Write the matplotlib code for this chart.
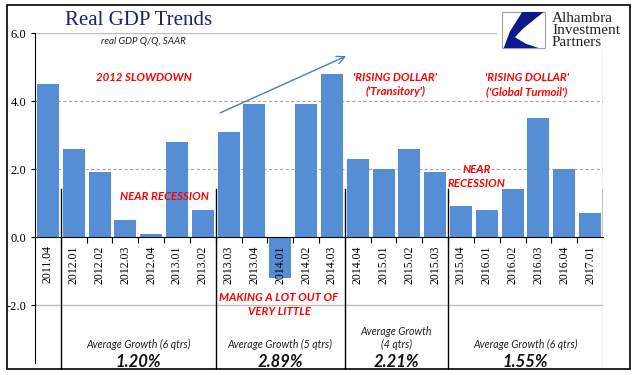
import matplotlib.pyplot as plt
from matplotlib.patches import Rectangle, Polygon

quarters = ["2011.04", "2012.01", "2012.02", "2012.03", "2012.04", "2013.01",
            "2013.02", "2013.03", "2013.04", "2014.01", "2014.02", "2014.03",
            "2014.04", "2015.01", "2015.02", "2015.03", "2015.04", "2016.01",
            "2016.02", "2016.03", "2016.04", "2017.01"]
gdp = [4.5, 2.6, 1.9, 0.5, 0.1, 2.8, 0.8, 3.1, 3.9, -1.2, 3.9, 4.8,
       2.3, 2.0, 2.6, 1.9, 0.9, 0.8, 1.4, 3.5, 2.0, 0.7]

# period boundaries (between quarters) and the averages written below
splits = [0.5, 6.5, 11.5, 15.5]
period_centers = [3.5, 9.0, 13.5, 18.5]
period_labels = ["Average Growth (6 qtrs)", "Average Growth (5 qtrs)",
                 "Average Growth\n(4 qtrs)", "Average Growth (6 qtrs)"]
period_avgs = ["1.20%", "2.89%", "2.21%", "1.55%"]

BLUE = "#558ED5"
RED = "#FF0000"
SANS = "Lato"
SERIF = "Liberation Serif"

W, H = 641, 375
fig = plt.figure(figsize=(W / 100, H / 100), dpi=100)
ymin, ymax = -3.9, 6.0
px_per_unit = 34.0
ax = fig.add_axes([35 / W, (H - 237 - (-ymin) * px_per_unit) / H,
                   (603 - 35) / W, (ymax - ymin) * px_per_unit / H])

x = list(range(len(quarters)))
ax.bar(x, gdp, width=0.85, color=BLUE, zorder=1)

# gridlines behind bars
ax.axhline(6.0, color="#BFBFBF", lw=1, zorder=0)
ax.axhline(-2.0, color="#BFBFBF", lw=1, zorder=0)
for g in [2.0, 4.0]:
    ax.axhline(g, color="#A6A6A6", lw=0.8, ls=(0, (3, 2)), zorder=0)

ax.set_xlim(-0.5, 21.5)
ax.set_ylim(ymin, ymax)

for s in ["top", "right"]:
    ax.spines[s].set_visible(False)
ax.spines["bottom"].set_position(("data", 0))
ax.spines["bottom"].set_zorder(3)
ax.spines["left"].set_bounds(-3.7, 6.0)
ax.axvline(21.5, color="#BFBFBF", lw=1, zorder=0)
ax.plot([21.5, 21.5], [0, 1.4], color="black", lw=1, zorder=3)

ax.set_yticks([-2, 0, 2, 4, 6])
ax.set_yticklabels(["-2.0", "0.0", "2.0", "4.0", "6.0"], fontfamily=SERIF, fontsize=9)
ax.tick_params(axis="y", length=3, width=0.8, pad=3)

ax.set_xticks([i + 0.5 for i in x[:-1]])
ax.set_xticklabels([])
ax.set_xticks(x, minor=True)
ax.set_xticklabels(quarters, minor=True, rotation=90, fontfamily=SERIF, fontsize=8.5)
ax.tick_params(axis="x", which="major", length=4, width=0.8, direction="out")
ax.tick_params(axis="x", which="minor", length=0, pad=6)
ax.xaxis.set_zorder(4)

for s in splits:
    ax.plot([s, s], [ymin, 1.4], color="black", lw=1, zorder=3)

# annotations
ax.text(3.7, 5.75, "real GDP Q/Q, SAAR", fontfamily=SANS, style="italic",
        fontsize=7, color="#222222", ha="center", va="center")
red = dict(fontfamily=SANS, style="italic", weight="bold", fontsize=8.2,
           color=RED, ha="center", va="center", linespacing=1.35)
ax.text(3.7, 4.68, "2012 SLOWDOWN", **red)
ax.text(4.5, 1.2, "NEAR RECESSION", **red)
ax.text(8.95, -1.98, "MAKING A LOT OUT OF\nVERY LITTLE", **red)
ax.text(13.45, 4.48, "'RISING DOLLAR'\n('Transitory')", **red)
ax.text(18.55, 4.48, "'RISING DOLLAR'\n('Global Turmoil')", **red)
ax.text(16.6, 1.78, "NEAR\nRECESSION", **red)

ax.annotate("", xy=(11.55, 5.32), xytext=(6.67, 3.65),
            arrowprops=dict(arrowstyle="->", color="#4A7EBB", lw=1,
                            mutation_scale=14, shrinkA=0, shrinkB=0))

for cx, lab, avg in zip(period_centers, period_labels, period_avgs):
    ly = -3.15 if "\n" not in lab else -2.97
    ax.text(cx, ly, lab, fontfamily=SANS, style="italic", fontsize=7.6,
            color="#222222", ha="center", va="center", linespacing=1.3)
    ax.text(cx, -3.68, avg, fontfamily=SANS, style="italic", weight="bold",
            fontsize=12, color="#111111", ha="center", va="center")

# title
fig.text(65 / W, 1 - 25 / H, "Real GDP Trends", fontfamily=SERIF,
         fontsize=15, color="#1F1F7A", ha="left", va="baseline")

# logo block
fig.patches.append(Rectangle((497 / W, 1 - 50 / H), 132 / W, 44 / H,
                             transform=fig.transFigure, facecolor="white",
                             edgecolor="none", zorder=5))
bx, by, bw, bh = 502 / W, 1 - 48 / H, 43 / W, 36 / H
fig.patches.append(Rectangle((bx, by), bw, bh, transform=fig.transFigure,
                             facecolor="white", edgecolor="#A0A0A0", lw=0.8, zorder=6))
shape = [(0.47, 1.0), (0.97, 1.0), (0.5, 0.55), (0.3, 0.3), (0.55, 0.12),
         (0.85, 0.0), (0.04, 0.0), (0.18, 0.45)]
fig.patches.append(Polygon([(bx + u * bw, by + v * bh) for u, v in shape],
                           closed=True, transform=fig.transFigure,
                           facecolor="#0A1A8C", edgecolor="none", zorder=7))
for i, word in enumerate(["Alhambra", "Investment", "Partners"]):
    fig.text(552 / W, 1 - (18 + 12 * i) / H, word, fontfamily=SERIF,
             fontsize=11, color="#222222", ha="left", va="center", zorder=8)

# outer frame
fig.patches.append(Rectangle((7 / W, 1 - 369 / H), 623 / W, 364 / H,
                             transform=fig.transFigure, facecolor="none",
                             edgecolor="black", lw=1.2, zorder=9))

fig.savefig("out.png", dpi=100)
